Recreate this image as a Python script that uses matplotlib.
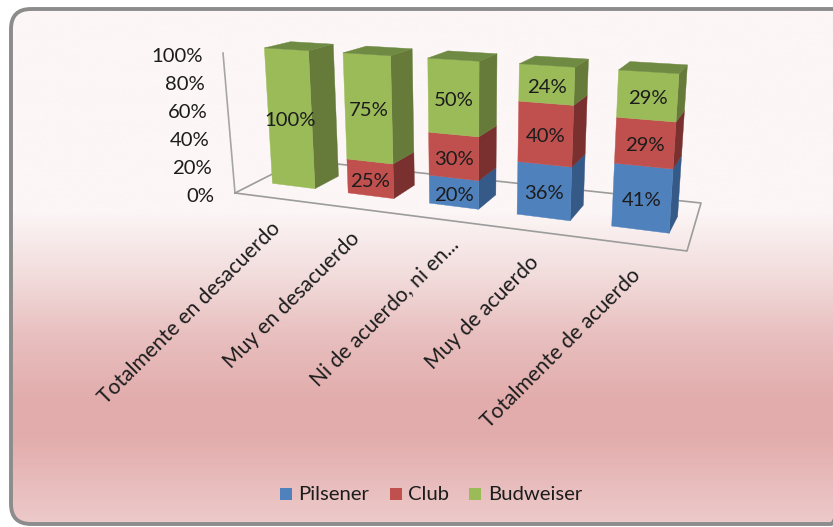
"""3D style 100% stacked columns (Excel look) drawn on a flat pixel axes."""
import matplotlib
matplotlib.use("Agg")
import matplotlib.pyplot as plt
import numpy as np
from matplotlib.colors import LinearSegmentedColormap
from matplotlib.patches import FancyBboxPatch, Polygon, Rectangle

plt.rcParams["font.family"] = ["Lato", "DejaVu Sans"]

# -----------------------------------------------------------------------------
# Data
# -----------------------------------------------------------------------------
categories = ["Totalmente en desacuerdo", "Muy en desacuerdo", "Ni de acuerdo, ni en...",
              "Muy de acuerdo", "Totalmente de acuerdo"]
pilsener = [0, 0, 20, 36, 41]
club = [0, 25, 30, 40, 29]
budweiser = [100, 75, 50, 24, 29]
series_names = ["Pilsener", "Club", "Budweiser"]
y_ticks = [0, 20, 40, 60, 80, 100]

# -----------------------------------------------------------------------------
# Style
# -----------------------------------------------------------------------------
FRONT = ["#4F81BD", "#C0504D", "#9BBB59"]
SIDE = ["#355A88", "#7A302E", "#667A3A"]
TOP = "#6F8A42"
TEXT = "#1C1C1C"
FS = 14.6
BAR_W = 0.57

# Camera: bar corners seen in the picture, used to fit a perspective projection
# per bar: front TL, front TR, front BL, front BR, back TR, back BR, back TL
CORNERS = [
    [(263, 48), (308, 51), (272, 184), (315, 189), (333, 44), (339, 175), (292, 42)],
    [(343, 54), (391, 57), (348, 193), (394, 198), (412, 48), (414, 185), (365, 46)],
    [(428, 58), (479, 62), (429, 203), (479, 209), (497, 53), (496, 194), (451, 51)],
    [(519, 64), (576, 68), (517, 213), (571, 220), (588, 58), (583, 206), (535, 56)],
    [(619, 70), (679, 73), (612, 225), (669, 232), (686, 64), (677, 222), (630, 61)],
]


def bar_edges(i):
    return i + 0.5 - BAR_W / 2, i + 0.5 + BAR_W / 2


def fit_camera():
    rows = []
    for i, pts in enumerate(CORNERS):
        x0, x1 = bar_edges(i)
        world = [(x0, 0, 1), (x1, 0, 1), (x0, 0, 0), (x1, 0, 0), (x1, 1, 1), (x1, 1, 0), (x0, 1, 1)]
        for (X, Y, Z), (u, v) in zip(world, pts):
            u, v = u / 500, v / 500
            rows.append([X, Y, Z, 1, 0, 0, 0, 0, -u * X, -u * Y, -u * Z, -u])
            rows.append([0, 0, 0, 0, X, Y, Z, 1, -v * X, -v * Y, -v * Z, -v])
    m = np.linalg.svd(np.array(rows))[2][-1].reshape(3, 4)
    return m


CAM = fit_camera()


def project(x, depth, z):
    p = CAM @ np.array([x, depth, z, 1.0])
    return p[0] / p[2] * 500, p[1] / p[2] * 500


# -----------------------------------------------------------------------------
# Figure
# -----------------------------------------------------------------------------
fig = plt.figure(figsize=(8.33, 5.27), dpi=100)
ax = fig.add_axes([0, 0, 1, 1])
ax.set_xlim(0, 833)
ax.set_ylim(527, 0)
ax.axis("off")

# background gradient inside the rounded frame
cmap = LinearSegmentedColormap.from_list("bg", [
    (0.0, "#FCF6F6"), (0.40, "#FCF6F6"), (0.537, "#F1D9D9"), (0.632, "#E9C0C0"),
    (0.76, "#E2ACAC"), (0.835, "#E3ADAD"), (1.0, "#EDCBCB")])
grad = np.linspace(0, 1, 512).reshape(-1, 1)
im = ax.imshow(grad, cmap=cmap, extent=(0, 833, 527, 0), aspect="auto", zorder=0)
ax.set_xlim(0, 833)
ax.set_ylim(527, 0)
frame = FancyBboxPatch((11, 9), 840, 515, boxstyle="round,pad=0,rounding_size=20",
                       facecolor="none", edgecolor="#8C8C8C", linewidth=2.8, zorder=1)
ax.add_patch(frame)
im.set_clip_path(frame)

# wall line and floor outline
ax.plot([223, 235], [53, 193], color="#A6A6A6", lw=1.2, zorder=2)
ax.plot([235, 687, 701, 300, 235], [193, 251, 203, 160, 193], color="#9C9C9C", lw=1.2, zorder=2)

# value axis labels, they follow the wall line
for t in y_ticks:
    f = t / 100
    ax.text(214 - 11 * f, 196.5 - 140 * f, f"{t}%", ha="right", va="center",
            fontsize=FS, color=TEXT, zorder=6)

# stacked columns
series = np.array([pilsener, club, budweiser], dtype=float)
shares = series / series.sum(axis=0)
for i in range(len(categories)):
    x0, x1 = bar_edges(i)
    base = 0.0
    for s in range(len(series_names)):
        v = shares[s, i]
        if v == 0:
            continue
        top = base + v
        front = [project(x0, 0, base), project(x1, 0, base), project(x1, 0, top), project(x0, 0, top)]
        side = [project(x1, 0, base), project(x1, 1, base), project(x1, 1, top), project(x1, 0, top)]
        ax.add_patch(Polygon(side, facecolor=SIDE[s], edgecolor=SIDE[s], lw=0.3, zorder=3))
        ax.add_patch(Polygon(front, facecolor=FRONT[s], edgecolor=FRONT[s], lw=0.3, zorder=3))
        cx, cy = np.mean(front, axis=0)
        ax.text(cx, cy + 3, f"{series[s, i]:.0f}%", ha="center", va="center",
                fontsize=FS, color=TEXT, zorder=5)
        base = top
    cap = [project(x0, 0, 1), project(x1, 0, 1), project(x1, 1, 1), project(x0, 1, 1)]
    ax.add_patch(Polygon(cap, facecolor=TOP, edgecolor=TOP, lw=0.3, zorder=3))

# category labels
label_ends = [(277, 225), (357, 235), (455, 241), (536, 259), (637, 272)]
for name, (lx, ly) in zip(categories, label_ends):
    ax.text(lx, ly, name, rotation=45, rotation_mode="anchor", ha="right", va="center",
            fontsize=15.2, color=TEXT, zorder=5)

# legend
legend_x = [(280, 298), (390, 408), (469, 488)]
for (sq, tx), name, c in zip(legend_x, series_names, FRONT):
    ax.add_patch(Rectangle((sq, 488), 12, 12, facecolor=c, edgecolor="none", zorder=5))
    ax.text(tx, 495, name, ha="left", va="center", fontsize=FS, color=TEXT, zorder=5)

fig.savefig("out.png", dpi=100)
